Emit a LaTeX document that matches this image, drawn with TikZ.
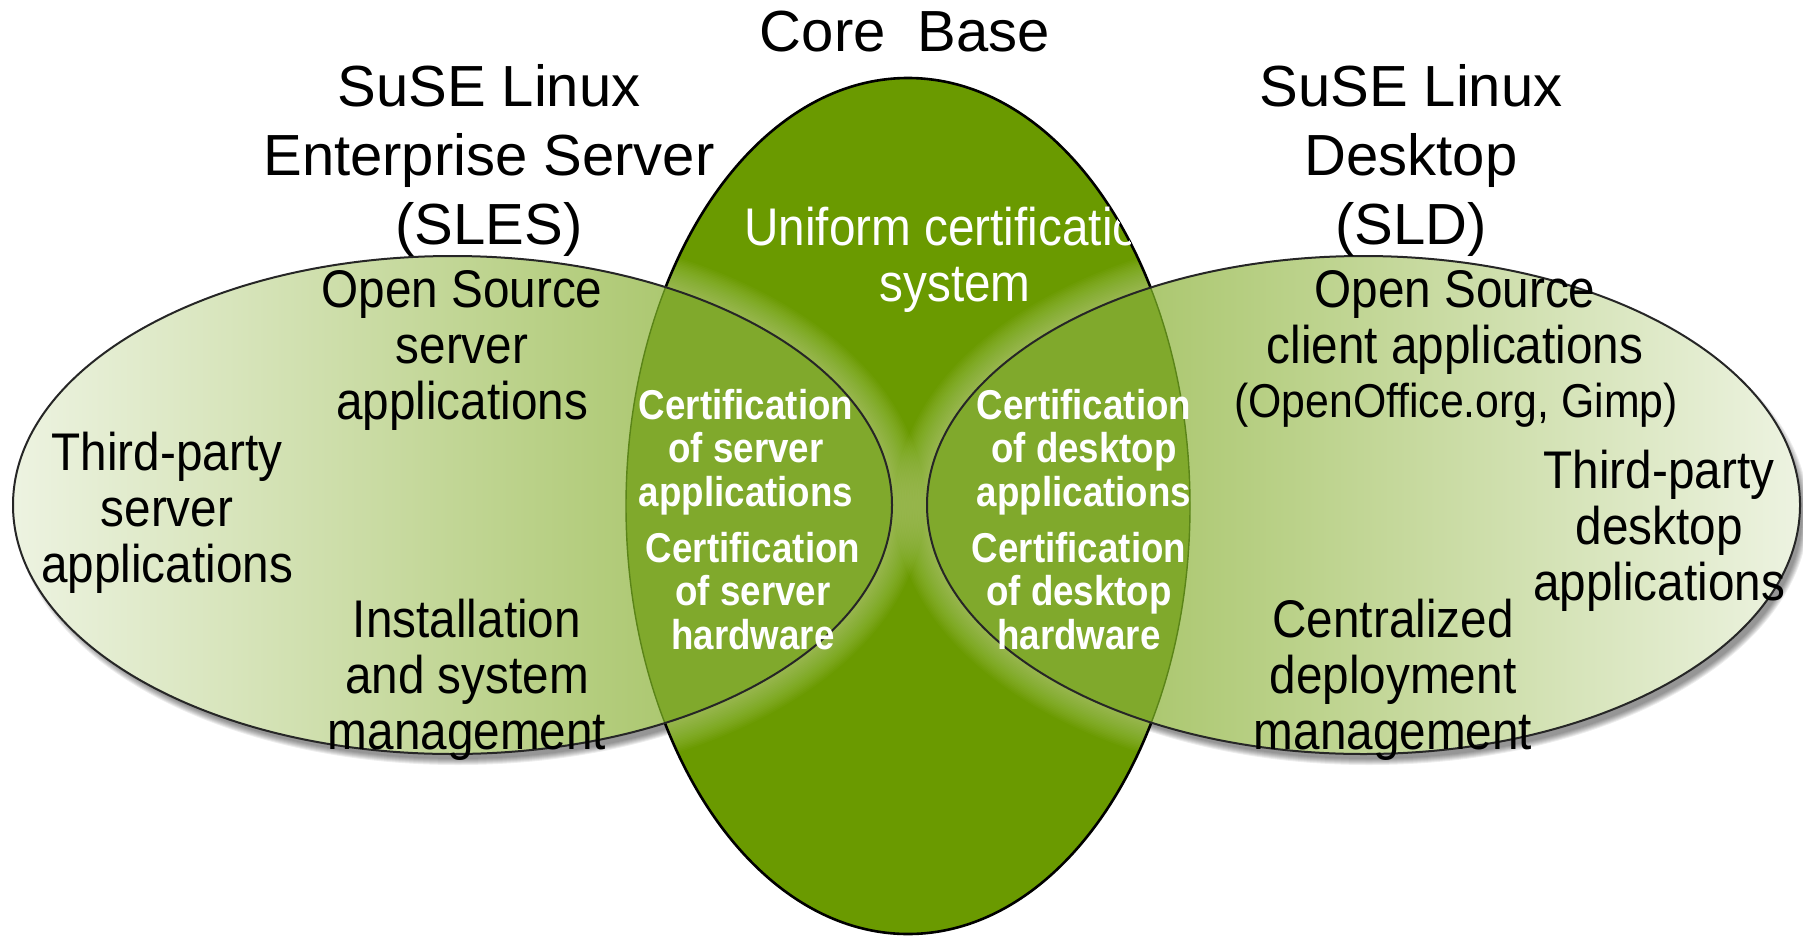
\documentclass[tikz,border=0pt]{standalone}
\usepackage{fontspec}
\setmainfont{Liberation Sans}
\newfontfamily\condfont{Liberation Sans}[FakeStretch=0.9]
\newfontfamily\condboldfont{Liberation Sans}[FakeStretch=0.88]
\definecolor{coreg}{HTML}{6A9A00}
\definecolor{lensg}{HTML}{80A92C}
\definecolor{sidedark}{HTML}{96B94A}
\definecolor{sidelight}{HTML}{EDF3E1}
\definecolor{glowc}{HTML}{D8E8B4}
\definecolor{innerline}{HTML}{5A8418}
\def\slespath{(452.5,505) ellipse [x radius=439.5, y radius=249]}
\def\sldpath{(1363.5,505) ellipse [x radius=436.5, y radius=249]}
\def\corepath{(908,506) ellipse [x radius=282, y radius=428]}
\tikzset{
  titletext/.style={font=\fontsize{58}{69}\selectfont, align=center, inner sep=0pt, text=black},
  innertext/.style={font=\condfont\fontsize{53}{56}\selectfont, align=center, inner sep=0pt, text=black},
  smalltext/.style={font=\condfont\fontsize{47.5}{52}\selectfont, align=center, inner sep=0pt, text=black},
  lenstext/.style={font=\condboldfont\bfseries\fontsize{41.7}{43.7}\selectfont, align=center, inner sep=0pt, text=white},
  coretext/.style={font=\condfont\fontsize{53}{56}\selectfont, align=center, inner sep=0pt, text=white},
}
\begin{document}
\begin{tikzpicture}[x=1pt,y=-1pt]
\useasboundingbox (0,0) rectangle (1803,937);
\fill[white] (0,0) rectangle (1803,937);
% drop shadows
\foreach \d in {0,1,2,3,4,5,6} {
  \fill[black, opacity=0.07] (458,513) ellipse [x radius=436.5+\d, y radius=246+\d];
  \fill[black, opacity=0.07] (1369,513) ellipse [x radius=433.5+\d, y radius=246+\d];
}
% side ellipses
\shade[left color=sidelight, right color=sidedark] \slespath;
\shade[left color=sidedark, right color=sidelight] \sldpath;
% central ellipse
\fill[coreg] \corepath;
% glow along side ellipse edges inside the core
\begin{scope}
  \clip \corepath;
  \foreach \i in {1,...,20} {
    \draw[glowc, line width=3.2*\i pt, opacity=0.032] \slespath;
    \draw[glowc, line width=3.2*\i pt, opacity=0.032] \sldpath;
  }
\end{scope}
% lenses
\begin{scope}
  \clip \corepath;
  \fill[lensg] \slespath;
  \fill[lensg] \sldpath;
\end{scope}
% core outline inside side ellipses (thin)
\begin{scope}
  \clip \slespath \sldpath;
  \draw[innerline, line width=1.4pt] \corepath;
\end{scope}
% core outline outside side ellipses (black)
\begin{scope}[even odd rule]
  \clip (0,0) rectangle (1803,937) \slespath \sldpath;
  \draw[black, line width=2.6pt] \corepath;
\end{scope}
% side outlines
\draw[black!85, line width=2pt] \slespath;
\draw[black!85, line width=2pt] \sldpath;
% core text (clipped by core ellipse)
\begin{scope}
  \clip \corepath;
  \node[coretext] (ucs) at (955,259.5) {Uniform certification\\system};
\end{scope}
% titles
\node[titletext] (core) at (905,32) {Core\ \ Base};
\node[titletext] (sles) at (489,160) {SuSE Linux\\Enterprise Server\\(SLES)};
\node[titletext] (sld) at (1411,160) {SuSE Linux\\Desktop\\(SLD)};
% SLES texts
\node[innertext] (oss) at (462,350) {Open Source\\server\\applications};
\node[innertext] (tps) at (167,513) {Third-party\\server\\applications};
\node[innertext] (ism) at (467,680) {Installation\\and system\\management};
% SLD texts
\node[innertext] (osc) at (1455,322) {Open Source\\client applications};
\node[smalltext] (ooo) at (1456,405) {(OpenOffice.org, Gimp)};
\node[innertext] (tpd) at (1659,531) {Third-party\\desktop\\applications};
\node[innertext] (cdm) at (1393,680) {Centralized\\deployment\\management};
% lens texts
\node[lenstext] (csa) at (746,452) {Certification\\of server\\applications};
\node[lenstext] (csh) at (753,591) {Certification\\of server\\hardware};
\node[lenstext] (cda) at (1084,452) {Certification\\of desktop\\applications};
\node[lenstext] (cdh) at (1079,591) {Certification\\of desktop\\hardware};
\end{tikzpicture}
\end{document}
